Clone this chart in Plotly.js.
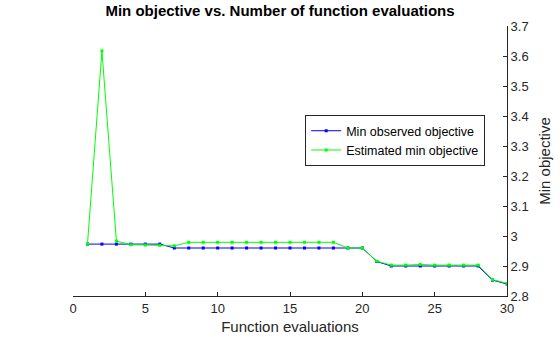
<!DOCTYPE html>
<html><head><meta charset="utf-8">
<script src="https://cdn.plot.ly/plotly-3.0.1.min.js"></script>
<style>body{margin:0;background:#fff}#c{width:560px;height:337px}</style>
</head><body><div id="c"></div>
<script>
const evals = [1,2,3,4,5,6,7,8,9,10,11,12,13,14,15,16,17,18,19,20,21,22,23,24,25,26,27,28,29,30];
const minObserved = [2.973,2.973,2.973,2.973,2.973,2.973,2.96,2.96,2.96,2.96,2.96,2.96,2.96,2.96,2.96,2.96,2.96,2.96,2.96,2.96,2.915,2.90,2.90,2.90,2.90,2.90,2.90,2.90,2.853,2.84];
const estMin = [2.973,3.617,2.983,2.971,2.97,2.969,2.967,2.979,2.979,2.979,2.979,2.979,2.979,2.979,2.979,2.979,2.979,2.979,2.96,2.96,2.916,2.903,2.903,2.905,2.903,2.903,2.903,2.903,2.855,2.842];
const xTicks = [0,5,10,15,20,25,30];
const yTicks = [2.8,2.9,3,3.1,3.2,3.3,3.4,3.5,3.6,3.7];

const traces = [
  {x: evals, y: minObserved, name: 'Min observed objective', type: 'scatter', mode: 'lines+markers',
   line: {color: '#0000ff', width: 1}, marker: {color: '#0000ff', size: 3, symbol: 'square'}},
  {x: evals, y: estMin, name: 'Estimated min objective', type: 'scatter', mode: 'lines+markers',
   line: {color: '#00ff00', width: 1}, marker: {color: '#00ff00', size: 3, symbol: 'square'}}
];
const layout = {
  width: 560, height: 337,
  margin: {l: 73, r: 53, t: 26, b: 41},
  paper_bgcolor: '#fff', plot_bgcolor: '#fff',
  font: {family: 'Liberation Sans, Arial, sans-serif', size: 13, color: '#262626'},
  title: {text: '<b>Min objective vs. Number of function evaluations</b>', font: {size: 15, color: '#000'}, x: 0.5, xanchor: 'center', y: 0.985, yanchor: 'top'},
  showlegend: true,
  legend: {x: 0.535, y: 0.67, xanchor: 'left', yanchor: 'top', bordercolor: '#262626', borderwidth: 1, bgcolor: '#fff', font: {size: 12.5, color: '#000'}, tracegroupgap: 0, itemwidth: 30},
  xaxis: {range: [0, 30], tickvals: xTicks, ticktext: xTicks.map(String), ticks: 'inside', ticklen: 4, tickcolor: '#262626',
    showline: true, linecolor: '#262626', linewidth: 1, showgrid: false, zeroline: false, mirror: false,
    title: {text: 'Function evaluations', font: {size: 15}, standoff: 6}},
  yaxis: {range: [2.8, 3.7], side: 'right', tickvals: yTicks, ticktext: ['2.8','2.9','3','3.1','3.2','3.3','3.4','3.5','3.6','3.7'],
    ticks: 'inside', ticklen: 4, tickcolor: '#262626', showline: true, linecolor: '#262626', linewidth: 1,
    showgrid: false, zeroline: false, title: {text: 'Min objective', font: {size: 15}, standoff: 11}}
};
Plotly.newPlot('c', traces, layout, {displayModeBar: false, staticPlot: true});
</script></body></html>
